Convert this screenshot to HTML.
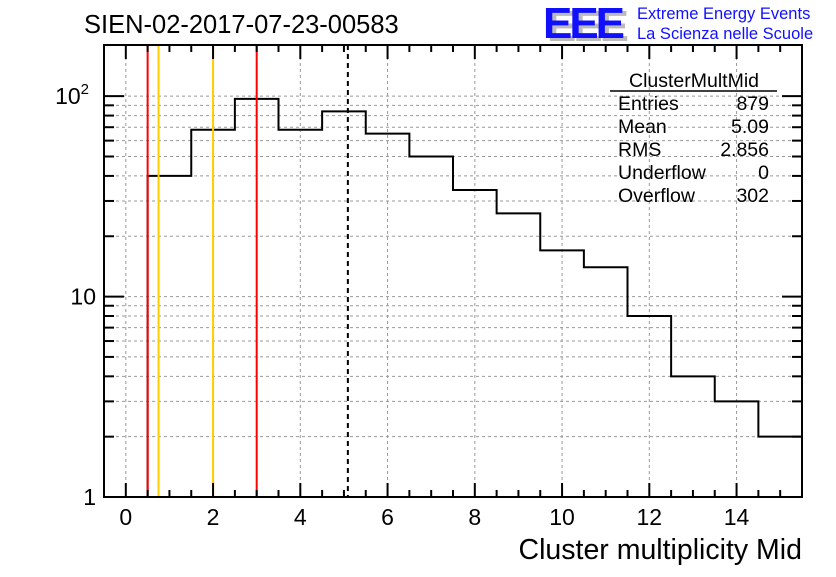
<!DOCTYPE html>
<html><head><meta charset="utf-8"><style>
body{margin:0;background:#fff}
svg text{font-family:"Liberation Sans",Arial,sans-serif}
</style></head><body>
<svg id="chart" width="836" height="572" xmlns="http://www.w3.org/2000/svg">
<text x="84" y="33" font-size="25.5">SIEN-02-2017-07-23-00583</text>
<g>
<text x="547" y="41" font-size="44" font-weight="bold" fill="#bbb" textLength="82">EEE</text>
<text x="543" y="38" font-size="44" font-weight="bold" fill="#1010ff" textLength="82">EEE</text>
<text x="637" y="19" font-size="16.5" fill="#1010ff">Extreme Energy Events</text>
<text x="637" y="39" font-size="16.5" fill="#1010ff">La Scienza nelle Scuole</text>
</g>
<g id="grid"></g><g id="marks"></g><g id="axes"></g>
<g font-size="19.5">
<text x="694" y="87" text-anchor="middle">ClusterMultMid</text>
<line x1="610" y1="91" x2="777" y2="91" stroke="#000" stroke-width="1.5"/>
<text x="618" y="110">Entries</text><text x="769" y="110" text-anchor="end">879</text>
<text x="618" y="133">Mean</text><text x="769" y="133" text-anchor="end">5.09</text>
<text x="618" y="156">RMS</text><text x="769" y="156" text-anchor="end">2.856</text>
<text x="618" y="179">Underflow</text><text x="769" y="179" text-anchor="end">0</text>
<text x="618" y="202">Overflow</text><text x="769" y="202" text-anchor="end">302</text>
</g>
<text x="802" y="559" font-size="28.5" text-anchor="end">Cluster multiplicity Mid</text>
</svg>
<script>
const binLows=[0.5,1.5,2.5,3.5,4.5,5.5,6.5,7.5,8.5,9.5,10.5,11.5,12.5,13.5,14.5];
const counts=[40,68,97,68,84,65,50,34,26,17,14,8,4,3,2];
const xTicks=[0,2,4,6,8,10,12,14];
const yTickLabels=["1","10","10²"];
const redLines=[0.5,3];
const orangeLines=[0.75,2];
const meanValue=5.09;
const NS="http://www.w3.org/2000/svg";
const L=104,R=802,T=45,B=497,xmin=-0.5,xmax=15.5,ymin=0,ymax=Math.log10(180);
const X=v=>L+(v-xmin)/(xmax-xmin)*(R-L);
const Y=v=>B-(Math.log10(v)-ymin)/(ymax-ymin)*(B-T);
function mk(tag,attrs,parent){const e=document.createElementNS(NS,tag);for(const k in attrs)e.setAttribute(k,attrs[k]);document.getElementById(parent).appendChild(e);return e;}
xTicks.forEach(t=>{const g=mk('line',{x1:X(t),x2:X(t),y1:T,y2:B,stroke:'#999','stroke-dasharray':'3,3'},'grid');

});
for(let d=1;d<=100;d*=10)for(let m=1;m<=9;m++){const v=d*m;if(v<=1||v>180)continue;
const g=mk('line',{x1:L,x2:R,y1:Y(v),y2:Y(v),stroke:'#999','stroke-dasharray':'3,3'},'grid');

}
let d=`M${X(binLows[0])},${B}`;
binLows.forEach((lo,i)=>{d+=` L${X(lo)},${Y(counts[i])} L${X(lo+1)},${Y(counts[i])}`;});
const h=mk('path',{d:d,fill:'none',stroke:'#000','stroke-width':2},'marks');


redLines.forEach(v=>{const l=mk('line',{x1:X(v),x2:X(v),y1:T,y2:B,stroke:'#f00','stroke-width':2},'marks');

});
orangeLines.forEach(v=>{const l=mk('line',{x1:X(v),x2:X(v),y1:T,y2:B,stroke:'#ffcc00','stroke-width':2},'marks');

});
const ml=mk('line',{x1:X(meanValue),x2:X(meanValue),y1:T,y2:B,stroke:'#000','stroke-width':2,'stroke-dasharray':'5,4'},'marks');


const fr=mk('rect',{x:L,y:T,width:R-L,height:B-T,fill:'none',stroke:'#000','stroke-width':2},'axes');


for(let v=-0.5;v<=15.5;v+=0.5){const maj=Number.isInteger(v/2)&&v>=0;const len=maj?14:7;
mk('line',{x1:X(v),x2:X(v),y1:B,y2:B-len,stroke:'#000','stroke-width':2},'axes');
mk('line',{x1:X(v),x2:X(v),y1:T,y2:T+len,stroke:'#000','stroke-width':2},'axes');}
xTicks.forEach(t=>{const tx=mk('text',{x:X(t),y:B+28,'font-size':23,'text-anchor':'middle'},'axes');tx.textContent=t;

});
for(let dd=1;dd<=100;dd*=10)for(let m=1;m<=9;m++){const v=dd*m;if(v>180)continue;const len=m===1?20:10;
mk('line',{x1:L,x2:L+len,y1:Y(v),y2:Y(v),stroke:'#000','stroke-width':2},'axes');
mk('line',{x1:R,x2:R-len,y1:Y(v),y2:Y(v),stroke:'#000','stroke-width':2},'axes');}
[1,10,100].forEach((v,i)=>{const tx=mk('text',{x:96,y:Y(v)+8,'font-size':23,'text-anchor':'end'},'axes');
if(i<2)tx.textContent=yTickLabels[i];else{tx.textContent='10';const s=document.createElementNS(NS,'tspan');s.setAttribute('dy','-10');s.setAttribute('font-size','15');s.textContent='2';tx.appendChild(s);tx.setAttribute('x',89);}

});
</script>
</body></html>
